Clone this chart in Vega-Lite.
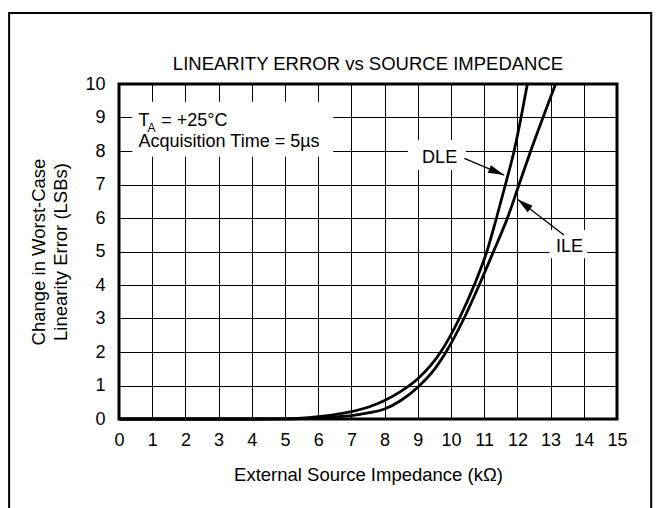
{
  "$schema": "https://vega.github.io/schema/vega-lite/v6.json",
  "autosize": {"type": "none"},
  "padding": {"left": 119, "top": 84, "right": 39, "bottom": 89},
  "width": 498,
  "height": 335,
  "background": "white",
  "config": {
    "font": "Liberation Sans",
    "view": {"stroke": "black", "strokeWidth": 3},
    "axis": {
      "labelFont": "Liberation Sans", "labelFontSize": 18, "labelColor": "black",
      "titleFont": "Liberation Sans", "titleFontSize": 18.5, "titleFontWeight": "normal", "titleColor": "black",
      "domain": false, "ticks": false, "grid": true, "gridColor": "black", "gridOpacity": 1, "gridWidth": 1
    }
  },
  "datasets": {
    "curves": [
      {"r": 0, "e": 0, "series": "DLE"},
      {"r": 4, "e": 0, "series": "DLE"},
      {"r": 5, "e": 0.005, "series": "DLE"},
      {"r": 5.5, "e": 0.025, "series": "DLE"},
      {"r": 6, "e": 0.07, "series": "DLE"},
      {"r": 6.5, "e": 0.13, "series": "DLE"},
      {"r": 7, "e": 0.22, "series": "DLE"},
      {"r": 7.5, "e": 0.35, "series": "DLE"},
      {"r": 8, "e": 0.55, "series": "DLE"},
      {"r": 8.5, "e": 0.83, "series": "DLE"},
      {"r": 9, "e": 1.2, "series": "DLE"},
      {"r": 9.69, "e": 2, "series": "DLE"},
      {"r": 10.25, "e": 3, "series": "DLE"},
      {"r": 10.7, "e": 4, "series": "DLE"},
      {"r": 11.08, "e": 5, "series": "DLE"},
      {"r": 11.37, "e": 6, "series": "DLE"},
      {"r": 11.64, "e": 7, "series": "DLE"},
      {"r": 11.9, "e": 8, "series": "DLE"},
      {"r": 12.11, "e": 9, "series": "DLE"},
      {"r": 12.3, "e": 10, "series": "DLE"},
      {"r": 0, "e": 0, "series": "ILE"},
      {"r": 4.5, "e": 0, "series": "ILE"},
      {"r": 5, "e": 0.003, "series": "ILE"},
      {"r": 5.5, "e": 0.01, "series": "ILE"},
      {"r": 6, "e": 0.03, "series": "ILE"},
      {"r": 6.5, "e": 0.06, "series": "ILE"},
      {"r": 7, "e": 0.1, "series": "ILE"},
      {"r": 7.5, "e": 0.18, "series": "ILE"},
      {"r": 8, "e": 0.3, "series": "ILE"},
      {"r": 8.5, "e": 0.56, "series": "ILE"},
      {"r": 9, "e": 0.95, "series": "ILE"},
      {"r": 9.5, "e": 1.48, "series": "ILE"},
      {"r": 9.85, "e": 2, "series": "ILE"},
      {"r": 10.39, "e": 3, "series": "ILE"},
      {"r": 10.85, "e": 4, "series": "ILE"},
      {"r": 11.28, "e": 5, "series": "ILE"},
      {"r": 11.7, "e": 6, "series": "ILE"},
      {"r": 12.05, "e": 7, "series": "ILE"},
      {"r": 12.4, "e": 8, "series": "ILE"},
      {"r": 12.77, "e": 9, "series": "ILE"},
      {"r": 13.15, "e": 10, "series": "ILE"}
    ],
    "frame": [{"r": -3.31, "r2": 16.03, "e": 12.12, "e2": -3.0}],
    "boxes": [
      {"r": 0.4, "r2": 6.45, "e": 7.83, "e2": 9.47},
      {"r": 8.7, "r2": 10.45, "e": 7.43, "e2": 8.33},
      {"r": 12.97, "r2": 14.1, "e": 4.8, "e2": 5.64}
    ],
    "arrows": [
      {"r": 10.4, "e": 7.78, "arrow": "DLE"},
      {"r": 11.6, "e": 7.28, "arrow": "DLE"},
      {"r": 13.4, "e": 5.49, "arrow": "ILE"},
      {"r": 12.0, "e": 6.56, "arrow": "ILE"}
    ],
    "heads": [
      {"r": 11.6, "e": 7.28, "arrow": "DLE"},
      {"r": 12.0, "e": 6.56, "arrow": "ILE"}
    ],
    "labels": [
      {"r": 0.59, "e": 8.755, "label": "T"},
      {"r": 1.27, "e": 8.755, "label": "= +25°C"},
      {"r": 0.59, "e": 8.11, "label": "Acquisition Time = 5µs"},
      {"r": 9.13, "e": 7.64, "label": "DLE"},
      {"r": 13.16, "e": 5.0, "label": "ILE"}
    ],
    "subs": [
      {"r": 0.862, "e": 8.576, "label": "A"}
    ],
    "heading": [
      {"r": 7.5, "e": 10.42, "label": "LINEARITY ERROR vs SOURCE IMPEDANCE"}
    ]
  },
  "encoding": {
    "x": {
      "field": "r", "type": "quantitative",
      "scale": {"domain": [0, 15], "nice": false, "zero": false},
      "axis": {"values": [0,1,2,3,4,5,6,7,8,9,10,11,12,13,14,15], "title": "External Source Impedance (kΩ)", "labelPadding": 12, "titlePadding": 16, "labelFlush": false}
    },
    "y": {
      "field": "e", "type": "quantitative",
      "scale": {"domain": [0, 10], "nice": false},
      "axis": {"values": [0,1,2,3,4,5,6,7,8,9,10], "title": ["Change in Worst-Case", "Linearity Error (LSBs)"], "labelPadding": 14, "titlePadding": 14, "titleLineHeight": 22, "labelFlush": false}
    }
  },
  "layer": [
    {
      "data": {"name": "frame"},
      "mark": {"type": "rect", "fill": "transparent", "stroke": "black", "strokeWidth": 2},
      "encoding": {
        "x2": {"field": "r2"},
        "y2": {"field": "e2"}
      }
    },
    {
      "data": {"name": "curves"},
      "mark": {"type": "line", "color": "black", "strokeWidth": 2.8, "interpolate": "monotone"},
      "encoding": {
        "detail": {"field": "series"}
      }
    },
    {
      "data": {"name": "boxes"},
      "mark": {"type": "rect", "fill": "white", "strokeWidth": 0},
      "encoding": {
        "x2": {"field": "r2"},
        "y2": {"field": "e2"}
      }
    },
    {
      "data": {"name": "arrows"},
      "mark": {"type": "line", "color": "black", "strokeWidth": 1.3},
      "encoding": {
        "detail": {"field": "arrow"}
      }
    },
    {
      "data": {"name": "heads"},
      "transform": [{"filter": "datum.arrow === 'DLE'"}],
      "mark": {"type": "point", "shape": "M0,0L0.5,2L-0.5,2Z", "filled": true, "color": "black", "opacity": 1, "size": 256, "angle": 112.7, "strokeWidth": 0},
      "encoding": {}
    },
    {
      "data": {"name": "heads"},
      "transform": [{"filter": "datum.arrow === 'ILE'"}],
      "mark": {"type": "point", "shape": "M0,0L0.5,2L-0.5,2Z", "filled": true, "color": "black", "opacity": 1, "size": 256, "angle": 307.4, "strokeWidth": 0},
      "encoding": {}
    },
    {
      "data": {"name": "labels"},
      "mark": {"type": "text", "font": "Liberation Sans", "fontSize": 18, "color": "black", "align": "left", "baseline": "alphabetic"},
      "encoding": {
        "text": {"field": "label"}
      }
    },
    {
      "data": {"name": "subs"},
      "mark": {"type": "text", "font": "Liberation Sans", "fontSize": 12, "color": "black", "align": "left", "baseline": "alphabetic"},
      "encoding": {
        "text": {"field": "label"}
      }
    },
    {
      "data": {"name": "heading"},
      "mark": {"type": "text", "font": "Liberation Sans", "fontSize": 18.5, "color": "black", "align": "center", "baseline": "alphabetic"},
      "encoding": {
        "text": {"field": "label"}
      }
    }
  ]
}
